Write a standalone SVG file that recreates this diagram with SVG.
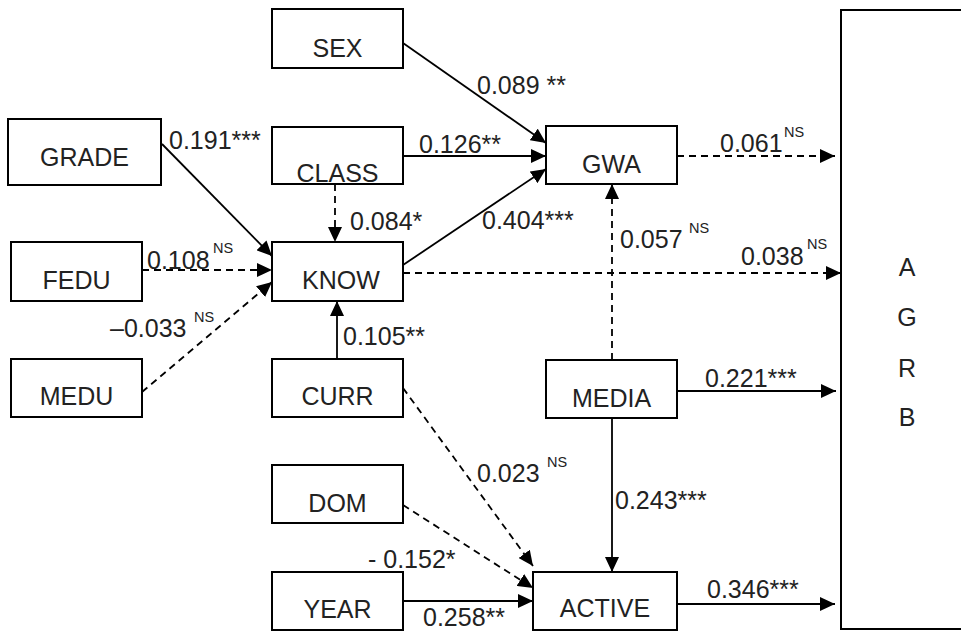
<svg xmlns="http://www.w3.org/2000/svg" width="961" height="631" viewBox="0 0 961 631">
<defs>
<style>
.box{fill:#fff;stroke:#000;stroke-width:2}
.n{font-family:"Liberation Sans",Arial,sans-serif;font-size:25px;fill:#222;text-anchor:middle}
.l{font-family:"Liberation Sans",Arial,sans-serif;font-size:25px;fill:#222}
.s{font-family:"Liberation Sans",Arial,sans-serif;font-size:14.5px;fill:#222}
.c{fill:none;stroke:#000;stroke-width:1.8}
.d{stroke-dasharray:7 5}
</style>
<marker id="ah" markerWidth="15" markerHeight="14" refX="15" refY="7" orient="auto" markerUnits="userSpaceOnUse"><path d="M0,0 L15,7 L0,14 z" fill="#000"/></marker>
</defs>
<rect width="961" height="631" fill="#fff"/>

<g id="connectors">
<line class="c" x1="403" y1="43" x2="546" y2="143" marker-end="url(#ah)"/>
<line class="c" x1="403" y1="156" x2="546" y2="156" marker-end="url(#ah)"/>
<line class="c" x1="403" y1="265" x2="546" y2="169" marker-end="url(#ah)"/>
<line class="c" x1="162" y1="144" x2="272" y2="256" marker-end="url(#ah)"/>
<line class="c d" x1="335" y1="184" x2="335" y2="242" marker-end="url(#ah)"/>
<line class="c d" x1="142" y1="270" x2="272" y2="270" marker-end="url(#ah)"/>
<line class="c d" x1="142" y1="392" x2="272" y2="282" marker-end="url(#ah)"/>
<line class="c" x1="337" y1="359" x2="337" y2="301" marker-end="url(#ah)"/>
<line class="c d" x1="403" y1="273" x2="841" y2="273" marker-end="url(#ah)"/>
<line class="c d" x1="677" y1="156" x2="835" y2="156" marker-end="url(#ah)"/>
<line class="c d" x1="612" y1="360" x2="612" y2="184" marker-end="url(#ah)"/>
<line class="c" x1="678" y1="391" x2="836" y2="391" marker-end="url(#ah)"/>
<line class="c" x1="612" y1="418" x2="612" y2="572" marker-end="url(#ah)"/>
<line class="c d" x1="403" y1="388" x2="533" y2="566" marker-end="url(#ah)"/>
<line class="c d" x1="403" y1="505" x2="533" y2="588" marker-end="url(#ah)"/>
<line class="c" x1="403" y1="601" x2="533" y2="601" marker-end="url(#ah)"/>
<line class="c" x1="677" y1="604" x2="835" y2="604" marker-end="url(#ah)"/>
</g>

<g id="labels">
<text class="l" x="477" y="94">0.089 **</text>
<text class="l" x="419" y="153">0.126**</text>
<text class="l" x="482" y="229">0.404***</text>
<text class="l" x="169" y="149">0.191***</text>
<text class="l" x="350" y="230">0.084*</text>
<text class="l" x="147" y="269">0.108</text><text class="s" x="213" y="253">NS</text>
<text class="l" x="110" y="337">–0.033</text><text class="s" x="194" y="322">NS</text>
<text class="l" x="343" y="345">0.105**</text>
<text class="l" x="741" y="265">0.038</text><text class="s" x="807" y="249">NS</text>
<text class="l" x="720" y="152">0.061</text><text class="s" x="784" y="137">NS</text>
<text class="l" x="620" y="248">0.057</text><text class="s" x="689" y="233">NS</text>
<text class="l" x="705" y="387">0.221***</text>
<text class="l" x="615" y="509">0.243***</text>
<text class="l" x="477" y="482">0.023</text><text class="s" x="547" y="467">NS</text>
<text class="l" x="368" y="568">- 0.152*</text>
<text class="l" x="423" y="626">0.258**</text>
<text class="l" x="707" y="598">0.346***</text>
</g>

<g id="SEX"><rect class="box" x="272" y="9" width="131" height="59"/><text class="n" x="337.5" y="57">SEX</text></g>
<g id="GRADE"><rect class="box" x="8" y="119" width="153" height="66"/><text class="n" x="84.5" y="166">GRADE</text></g>
<g id="CLASS"><rect class="box" x="272" y="127" width="131" height="57"/><text class="n" x="337.5" y="182">CLASS</text></g>
<g id="GWA"><rect class="box" x="546" y="126" width="131" height="58"/><text class="n" x="611.5" y="173">GWA</text></g>
<g id="FEDU"><rect class="box" x="11" y="242" width="131" height="59"/><text class="n" x="76.5" y="289">FEDU</text></g>
<g id="KNOW"><rect class="box" x="272" y="242" width="131" height="59"/><text class="n" x="341" y="289">KNOW</text></g>
<g id="MEDU"><rect class="box" x="11" y="359" width="131" height="58"/><text class="n" x="76.5" y="405">MEDU</text></g>
<g id="CURR"><rect class="box" x="272" y="359" width="131" height="58"/><text class="n" x="337.5" y="405">CURR</text></g>
<g id="MEDIA"><rect class="box" x="546" y="360" width="131" height="58"/><text class="n" x="611.5" y="407">MEDIA</text></g>
<g id="DOM"><rect class="box" x="272" y="465" width="131" height="58"/><text class="n" x="337.5" y="512">DOM</text></g>
<g id="YEAR"><rect class="box" x="272" y="572" width="131" height="58"/><text class="n" x="337.5" y="618">YEAR</text></g>
<g id="ACTIVE"><rect class="box" x="533" y="572" width="144" height="58"/><text class="n" x="605" y="617">ACTIVE</text></g>
<g id="AGRB"><rect class="box" x="841" y="10" width="130" height="619"/>
<text class="n" x="907" y="276">A</text>
<text class="n" x="907" y="326">G</text>
<text class="n" x="907" y="377">R</text>
<text class="n" x="907" y="426">B</text>
</g>
</svg>
